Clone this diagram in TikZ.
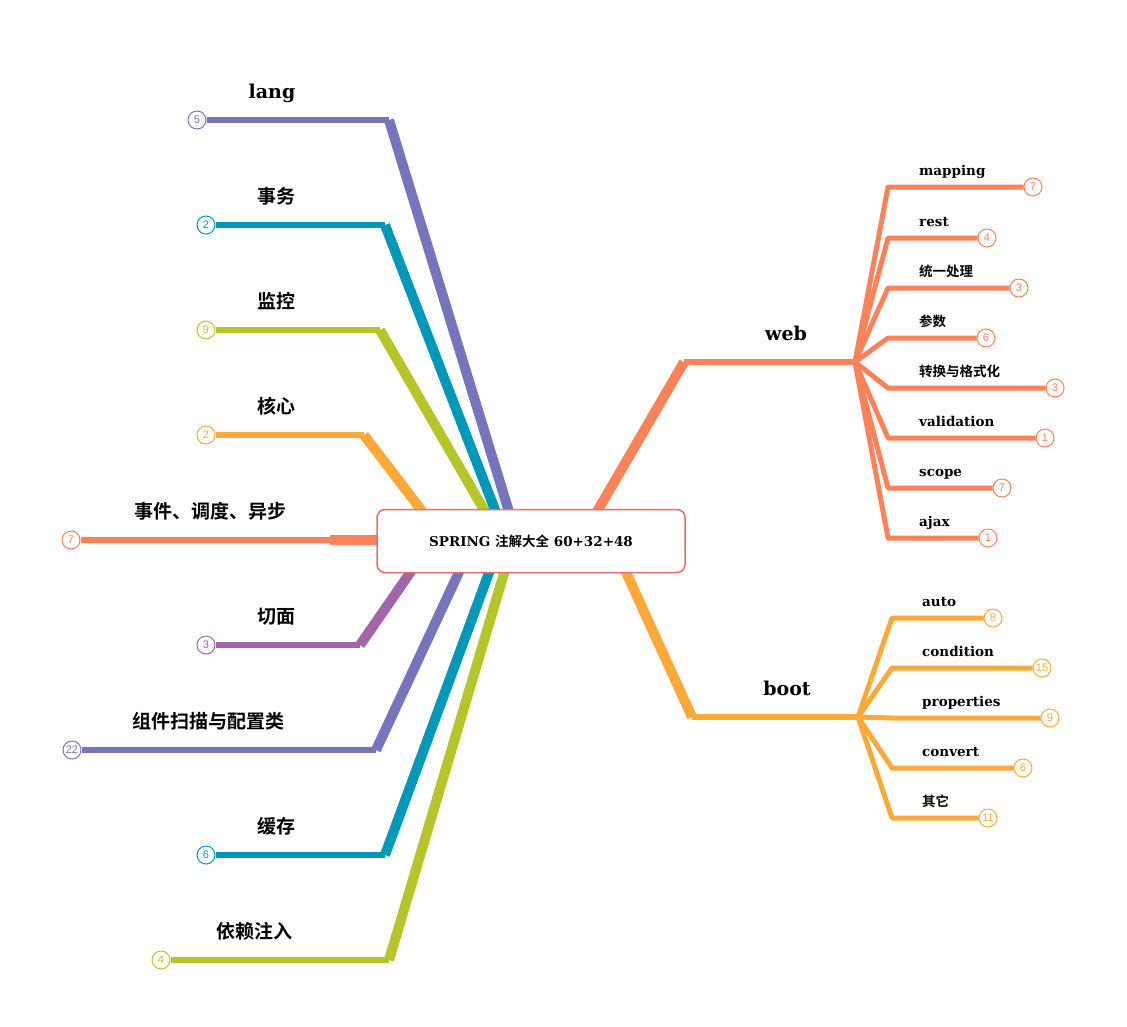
\documentclass[tikz,border=0pt]{standalone}
\usepackage{fontspec}
\setmainfont{DejaVu Serif}
\newfontfamily\cjk{Noto Sans CJK SC}[BoldFont={Noto Sans CJK SC Bold}]
\newfontfamily\numf{Liberation Sans}
\definecolor{cpur}{HTML}{7574BC}
\definecolor{cteal}{HTML}{0098B9}
\definecolor{coli}{HTML}{B5C52A}
\definecolor{corg}{HTML}{FDA93A}
\definecolor{ccor}{HTML}{FD8159}
\definecolor{cvio}{HTML}{A066A8}
\definecolor{cbox}{HTML}{EC6B73}
\tikzset{
 cnt/.style={circle,draw=#1,fill=white,text=#1,line width=1pt,minimum size=18pt,inner sep=0pt,font=\numf\fontsize{11}{11}\selectfont},
 bigl/.style={anchor=base,font=\bfseries\fontsize{19}{19}\selectfont},
 smll/.style={anchor=base west,inner sep=0pt,font=\bfseries\fontsize{13.5}{14}\selectfont},
 trunk/.style={draw=#1,line width=10pt,line join=round},
 twig/.style={draw=#1,line width=6pt},
 fan/.style={draw=#1,line width=5pt,line join=round},
}
\begin{document}
\begin{tikzpicture}[x=1pt,y=-1pt]
\useasboundingbox (0,0) rectangle (1127,1026);
% left branches: start, elbow, circle
\def\lbr#1#2#3#4#5#6#7#8{%
 \coordinate (s#1) at (#2);
 \coordinate (e#1) at (#3);
 \node[cnt=#4] (c#1) at (#5) {#6};
 \draw[trunk=#4] (s#1) -- (e#1);
 \draw[twig=#4] (e#1) -- (c#1.east);
 \node[bigl] (l#1) at (#7) {#8};
}
\lbr{a}{510,515}{389,120}{cpur}{197,120}{5}{272,98}{lang}
\lbr{b}{497,515}{385,225}{cteal}{206,225}{2}{276,203}{\cjk\bfseries 事务}
\lbr{c}{487,515}{380,330}{coli}{206,330}{9}{276,308}{\cjk\bfseries 监控}
\lbr{d}{425,515}{364,435}{corg}{206,435}{2}{276,413}{\cjk\bfseries 核心}
\lbr{e}{390,540}{330,540}{ccor}{71,540}{7}{210,518}{\cjk\bfseries 事件、调度、异步}
\lbr{f}{412,570}{360,645}{cvio}{206,645}{3}{276,623}{\cjk\bfseries 切面}
\lbr{g}{460,570}{376,750}{cpur}{72,750}{22}{208,728}{\cjk\bfseries 组件扫描与配置类}
\lbr{h}{490,570}{385,855}{cteal}{206,855}{6}{276,833}{\cjk\bfseries 缓存}
\lbr{i}{505,570}{389,960}{coli}{161,960}{4}{254,938}{\cjk\bfseries 依赖注入}
% right trunks
\coordinate (sw) at (595,515); \coordinate (ew) at (684,362); \coordinate (hw) at (855,362);
\draw[trunk=ccor] (sw) -- (ew); \draw[twig=ccor] (ew) -- (hw);
\node[bigl] (lw) at (786,340) {web};
\coordinate (sb) at (625,570); \coordinate (eb) at (692,717); \coordinate (hb) at (858,717);
\draw[trunk=corg] (sb) -- (eb); \draw[twig=corg] (eb) -- (hb);
\node[bigl] (lb) at (787,695) {boot};
% center
\node[draw=cbox,line width=1.5pt,rounded corners=8pt,fill=white,minimum width=308pt,minimum height=63pt,font=\bfseries\fontsize{13.5}{14}\selectfont] (root) at (531,541) {SPRING {\cjk\bfseries 注解大全} 60+32+48};
% leaf macro
\def\leaf#1#2#3#4#5#6#7#8#9{%
 \coordinate (k#1) at (#3,#4);
 \node[cnt=#2] (n#1) at (#5,#4) {#6};
 \draw[fan=#2] (#7) -- (k#1) -- (n#1.west);
 \node[smll] (t#1) at (#8,#4-12) {#9};
}
\leaf{1}{ccor}{888}{187}{1033}{7}{hw}{919}{mapping}
\leaf{2}{ccor}{888}{238}{987}{4}{hw}{919}{rest}
\leaf{3}{ccor}{888}{288}{1019}{3}{hw}{919}{\cjk\bfseries 统一处理}
\leaf{4}{ccor}{888}{338}{986}{6}{hw}{919}{\cjk\bfseries 参数}
\leaf{5}{ccor}{888}{388}{1055}{3}{hw}{919}{\cjk\bfseries 转换与格式化}
\leaf{6}{ccor}{888}{438}{1045}{1}{hw}{919}{validation}
\leaf{7}{ccor}{888}{488}{1002}{7}{hw}{919}{scope}
\leaf{8}{ccor}{888}{538}{988}{1}{hw}{919}{ajax}
\leaf{9}{corg}{892}{618}{993}{8}{hb}{922}{auto}
\leaf{10}{corg}{892}{668}{1042}{15}{hb}{922}{condition}
\leaf{11}{corg}{892}{718}{1050}{9}{hb}{922}{properties}
\leaf{12}{corg}{892}{768}{1023}{6}{hb}{922}{convert}
\leaf{13}{corg}{892}{818}{988}{11}{hb}{922}{\cjk\bfseries 其它}
\end{tikzpicture}
\end{document}
